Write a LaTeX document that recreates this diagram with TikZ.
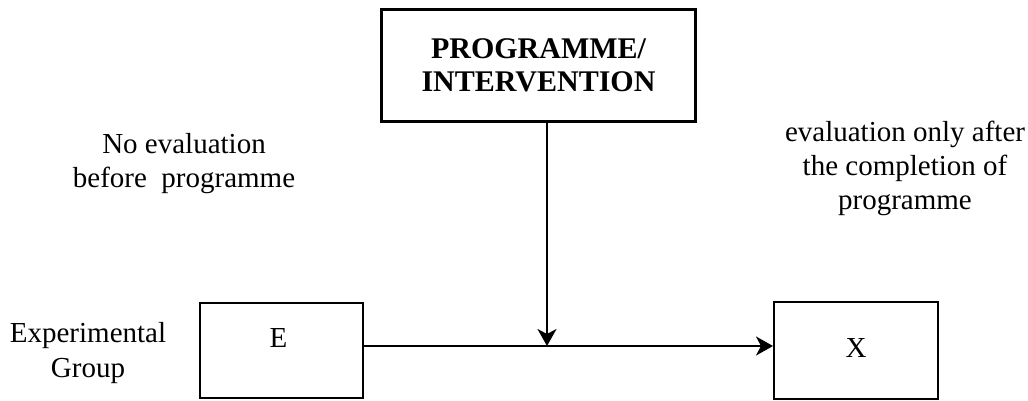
\documentclass[tikz,border=0pt]{standalone}
\usepackage{fontspec}
\setmainfont{Liberation Serif}
\usetikzlibrary{arrows.meta}
\begin{document}
\begin{tikzpicture}[x=1pt,y=-1pt,
  box/.style={draw=black, line width=2pt, inner sep=0pt, fill=white},
  txt/.style={align=center, inner sep=0pt, font=\fontsize{29}{34}\selectfont},
  arr/.style={line width=2pt, -{Stealth[length=17pt,width=19pt,inset=5pt]}}
]
\useasboundingbox[fill=white] (0,0) rectangle (1028,401);
\node[box, line width=2.5pt, minimum width=314pt, minimum height=112pt,
  align=center, font=\fontsize{30}{33.5}\selectfont\bfseries] (P) at (538.5,65.5) {PROGRAMME/\\INTERVENTION};
\node[box, minimum width=163pt, minimum height=95pt,
  label={[txt, yshift=12pt, xshift=-3pt]center:E}] (E) at (281.5,350.5) {};
\node[box, minimum width=164pt, minimum height=97pt,
  label={[txt, yshift=2pt]center:X}] (X) at (856,350.5) {};
\node[txt] (nb) at (184,163.5) {No evaluation\\before\ \ programme};
\node[txt] (ea) at (905,168) {evaluation only after\\the completion of\\programme};
\node[txt, font=\fontsize{29}{35}\selectfont] (eg) at (88,353.5) {Experimental\\Group};
\coordinate (J) at (547,346);
\draw[arr] (E.east |- J) -- (X.west |- J);
\draw[arr] (P.south -| J) -- (J);
\end{tikzpicture}
\end{document}
